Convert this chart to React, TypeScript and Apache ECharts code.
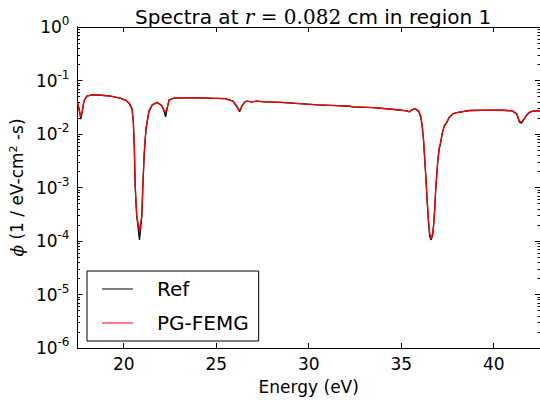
import { useEffect, useRef } from "react";
import * as echarts from "echarts";

const energy = [
  17.5, 17.6, 17.68, 17.75, 17.85, 18.0, 18.3, 18.8, 19.3, 19.8,
  20.1, 20.3, 20.45, 20.52, 20.57, 20.62, 20.7, 20.79, 20.85, 20.92,
  20.98, 21.03, 21.1, 21.16, 21.22, 21.36, 21.54, 21.8, 22.05, 22.18,
  22.26, 22.35, 22.45, 22.7, 23.5, 24.5, 25.5, 25.9, 26.1, 26.26,
  26.4, 26.55, 26.66, 26.9, 27.2, 27.6, 28.5, 29.5, 30.5, 31.5,
  32.2, 32.4, 33.5, 34.5, 35.3, 35.45, 35.55, 35.75, 35.95, 36.05,
  36.12, 36.2, 36.27, 36.33, 36.4, 36.47, 36.54, 36.62, 36.7, 36.75,
  36.81, 36.86, 36.92, 36.98, 37.05, 37.11, 37.17, 37.22, 37.33, 37.44,
  37.6, 37.8, 38.0, 38.7, 39.8, 40.5, 41.0, 41.25, 41.38, 41.5,
  41.62, 41.75, 41.9, 42.1, 42.5,
];

const femgFlux = [
  0.040, 0.028, 0.021, 0.026, 0.042, 0.051, 0.054, 0.053, 0.051, 0.047,
  0.043, 0.038, 0.030, 0.0166, 0.006, 0.0011, 0.0003, 0.0002, 0.00015, 0.00022,
  0.0003, 0.0011, 0.004, 0.0085, 0.014, 0.027, 0.035, 0.039, 0.034, 0.028,
  0.025, 0.031, 0.043, 0.047, 0.048, 0.047, 0.046, 0.041, 0.034, 0.027,
  0.034, 0.040, 0.041, 0.040, 0.041, 0.040, 0.039, 0.037, 0.035, 0.034,
  0.033, 0.032, 0.031, 0.029, 0.027, 0.026, 0.028, 0.030, 0.027, 0.022,
  0.016, 0.0085, 0.0035, 0.0016, 0.0006, 0.00025, 0.00014, 0.00011, 0.00014, 0.0002,
  0.0004, 0.0009, 0.0018, 0.0034, 0.0055, 0.0065, 0.0085, 0.0107, 0.0145, 0.0162,
  0.0209, 0.024, 0.0251, 0.0275, 0.028, 0.0278, 0.027, 0.024, 0.0175, 0.0166,
  0.019, 0.022, 0.025, 0.0268, 0.027,
];

const refFlux = [
  0.040, 0.027, 0.019, 0.025, 0.041, 0.051, 0.054, 0.053, 0.051, 0.047,
  0.043, 0.037, 0.029, 0.0160, 0.0055, 0.0010, 0.0003, 0.00016, 0.000105, 0.00018,
  0.0003, 0.0010, 0.0037, 0.0080, 0.0135, 0.026, 0.035, 0.039, 0.034, 0.027,
  0.021, 0.030, 0.043, 0.047, 0.048, 0.047, 0.046, 0.041, 0.033, 0.026,
  0.034, 0.040, 0.041, 0.040, 0.041, 0.040, 0.039, 0.037, 0.035, 0.034,
  0.033, 0.032, 0.031, 0.029, 0.027, 0.026, 0.028, 0.030, 0.026, 0.021,
  0.015, 0.0080, 0.0033, 0.0015, 0.00055, 0.00023, 0.00012, 0.000105, 0.00013, 0.0002,
  0.0004, 0.0009, 0.0017, 0.0032, 0.0052, 0.0063, 0.0082, 0.0104, 0.0142, 0.016,
  0.0205, 0.0238, 0.025, 0.0275, 0.028, 0.0278, 0.027, 0.0235, 0.0168, 0.0160,
  0.0185, 0.0218, 0.025, 0.0268, 0.027,
];

const xTicks = [20, 25, 30, 35, 40];
const yDecades = [1e-6, 1e-5, 1e-4, 1e-3, 1e-2, 1e-1, 1];

const FONT = "DejaVu Sans";
const SERIF = "DejaVu Serif";

export default function App() {
  const ref = useRef<HTMLDivElement>(null);
  useEffect(() => {
    document.body.style.margin = "0";
    if (!ref.current) return;
    const chart = echarts.init(ref.current, null, { renderer: "svg" });
    const minorVals: number[] = [];
    for (let i = 0; i < yDecades.length - 1; i++) {
      for (let m = 2; m <= 9; m++) minorVals.push(yDecades[i] * m);
    }
    const xMin = 17.5;
    const xMax = 42.5;
    const yFmt = (v: number) => {
      const e = Math.round(Math.log10(v));
      return `{b|10}{s|${e}}`;
    };
    const baseX = {
      type: "value" as const,
      min: xMin,
      max: xMax,
      splitLine: { show: false },
      axisLine: { show: true, onZero: false, lineStyle: { color: "#000", width: 1 } },
      axisTick: { show: true, inside: true, length: 5, customValues: xTicks, lineStyle: { color: "#000" } },
    };
    const baseY = {
      type: "log" as const,
      logBase: 10,
      min: 1e-6,
      max: 1,
      splitLine: { show: false },
      axisLine: { show: true, lineStyle: { color: "#000", width: 1 } },
    };
    const series = [
      { name: "Ref", data: energy.map((e, i) => [e, refFlux[i]]), color: "#000000" },
      { name: "PG-FEMG", data: energy.map((e, i) => [e, femgFlux[i]]), color: "#ff0000" },
    ];
    chart.setOption({
      animation: false,
      textStyle: { fontFamily: FONT },
      title: {
        text: "{a|Spectra at }{m|r}{n| = 0.082}{a| cm in region 1}",
        left: 130,
        top: 2,
        textStyle: {
          fontWeight: "normal",
          rich: {
            a: { fontFamily: FONT, fontSize: 20, color: "#000", fontWeight: "normal" },
            m: { fontFamily: SERIF, fontStyle: "italic", fontSize: 20, color: "#000", fontWeight: "normal" },
            n: { fontFamily: SERIF, fontSize: 20, color: "#000", fontWeight: "normal" },
          },
        },
      },
      grid: { left: 77, top: 27, width: 463, height: 324 },
      legend: {
        orient: "vertical",
        left: 87,
        top: 271,
        padding: [7, 10, 7, 15],
        itemGap: 12,
        itemWidth: 31,
        itemHeight: 1,
        icon: "rect",
        borderColor: "#000",
        borderWidth: 1,
        textStyle: { fontSize: 20, fontFamily: FONT, color: "#000", padding: [0, 0, 0, 19], lineHeight: 22 },
        data: series.map((s) => ({ name: s.name, itemStyle: { color: s.color } })),
      },
      xAxis: [
        {
          ...baseX,
          position: "bottom",
          name: "Energy (eV)",
          nameLocation: "middle",
          nameGap: 30,
          nameTextStyle: { fontSize: 17, fontFamily: FONT, color: "#000" },
          axisLabel: { customValues: xTicks, fontSize: 17, fontFamily: FONT, color: "#000", margin: 7 },
        },
        {
          ...baseX,
          position: "top",
          axisLabel: { show: false },
        },
      ],
      yAxis: [
        {
          ...baseY,
          position: "left",
          interval: 1,
          name: "{i|ϕ} (1 / eV-cm{s|2} -s)",
          nameLocation: "middle",
          nameGap: 50,
          nameRotate: 90,
          nameTextStyle: {
            fontSize: 17,
            fontFamily: FONT,
            color: "#000",
            rich: {
              i: { fontFamily: SERIF, fontStyle: "italic", fontSize: 17, color: "#000" },
              s: { fontSize: 11, verticalAlign: "top", color: "#000", fontFamily: FONT },
            },
          },
          axisTick: { show: true, inside: true, length: 5, lineStyle: { color: "#000" } },
          axisLabel: {
            formatter: yFmt,
            margin: 8,
            rich: {
              b: { fontSize: 17, fontFamily: FONT, color: "#000", lineHeight: 24 },
              s: { fontSize: 12, fontFamily: FONT, color: "#000", verticalAlign: "top", lineHeight: 24 },
            },
          },
        },
        {
          ...baseY,
          position: "right",
          interval: 1,
          axisTick: { show: true, inside: true, length: 5, lineStyle: { color: "#000" } },
          axisLabel: { show: false },
        },
        {
          ...baseY,
          position: "left",
          axisTick: { show: true, inside: true, length: 2.5, customValues: minorVals, lineStyle: { color: "#000" } },
          axisLabel: { show: false },
        },
        {
          ...baseY,
          position: "right",
          axisTick: { show: true, inside: true, length: 2.5, customValues: minorVals, lineStyle: { color: "#000" } },
          axisLabel: { show: false },
        },
      ],
      series: series.map((s) => ({
        name: s.name,
        type: "line",
        xAxisIndex: 0,
        yAxisIndex: 0,
        symbol: "none",
        data: s.data,
        lineStyle: { color: s.color, width: 1.3 },
        itemStyle: { color: s.color },
      })),
    });
    return () => chart.dispose();
  }, []);
  return <div ref={ref} style={{ width: 540, height: 400 }} />;
}
